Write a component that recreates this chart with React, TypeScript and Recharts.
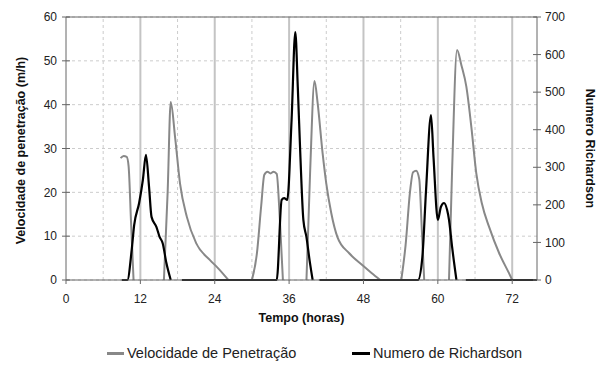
import React from "react";
import {
  LineChart,
  Line,
  XAxis,
  YAxis,
  CartesianGrid,
  ReferenceLine,
  Legend,
} from "recharts";

// Velocidade de penetração (m/h) — left axis
const VEL_TIME = [
  8.8, 9.3, 9.8, 10.1, 10.5, 10.9, 11.5,
  15.8, 16.4, 16.9, 17.6, 18.4, 19.5, 21.0, 23.2, 24.6, 26.2, 28,
  30.0, 30.8, 31.5, 32.0, 32.5, 33.0, 33.5, 34.0, 34.5, 35.0, 36,
  38.8, 39.4, 40.1, 40.6, 41.4, 42.0, 42.8, 43.8, 45.7, 47.8, 49.3, 50.7, 52,
  54.1, 54.8, 55.5, 56.0, 56.5, 57.0, 57.4, 57.8, 59,
  61.8, 62.3, 63.1, 63.8, 64.6, 65.4, 66.2, 67.1, 68.3, 69.9, 71.5, 72.0,
];
const VEL_VALUES = [
  27.8, 28.3, 28.1, 26, 13, 0, null,
  0, 20, 40.6, 32.6, 22, 14.4, 8.4, 4.6, 2.6, 0, null,
  0, 6, 17, 24, 24.7, 24.3, 24.7, 24.2, 14, 0, null,
  0, 25, 45.4, 40.4, 29, 22, 15.3, 9.8, 6.1, 3.4, 1.6, 0, null,
  0, 8, 20, 24.6, 24.9, 23, 12, 0, null,
  0, 25, 52.5, 49, 44.1, 35, 24.4, 17.5, 12, 6.1, 1.5, 0,
];

// Numero de Richardson — right axis
const RICH_TIME = [
  9.0, 9.9, 10.6, 11.0, 11.8, 12.4, 12.9, 13.4, 13.8, 14.6, 15.1, 15.6, 16.2, 16.9, 17.8,
  18.7, 34.0, 34.8, 35.2, 35.7, 36.4, 37.0, 37.4, 37.8, 38.3, 38.8, 39.3, 39.8, 40.4,
  40.9, 56.8, 57.5, 58.1, 58.9, 59.3, 60.0, 60.5, 61.0, 61.5, 61.8, 62.3, 63.0, 63.8,
  64.5, 76,
];
const RICH_VALUES = [
  0, 0, 80, 146, 205, 266, 333, 248, 168, 141, 115, 98, 45, 0, null,
  0, 0, 213, 218, 213, 426, 660, 514, 338, 160, 114, 53, 0, null,
  0, 0, 61, 240, 439, 327, 160, 195, 205, 186, 160, 88, 0, null,
  0, 0,
];

const X_TICKS = [0, 12, 24, 36, 48, 60, 72];
const X_MINOR = [6, 18, 30, 42, 54, 66];
const X_MAJOR = [12, 24, 36, 48, 60, 72];
const LEFT_TICKS = [0, 10, 20, 30, 40, 50, 60];
const RIGHT_TICKS = [0, 100, 200, 300, 400, 500, 600, 700];

const velData = VEL_TIME.map((t, i) => ({ t, vel: VEL_VALUES[i] }));
const richData = RICH_TIME.map((t, i) => ({ t, rich: RICH_VALUES[i] }));

const FONT = "Arial, 'Liberation Sans', sans-serif";
const AXIS = "#666";
const TITLE_STYLE = { fontSize: 12.5, fontWeight: "bold", fill: "#111", fontFamily: FONT };

const LeftTick = ({ x, y, payload }: any) => (
  <g>
    <line x1={x + 5} x2={x + 13} y1={y} y2={y} stroke={AXIS} />
    <text x={x} y={y} dy="0.35em" textAnchor="end" fontSize={12} fill="#222" fontFamily={FONT}>
      {payload.value}
    </text>
  </g>
);

const RightTick = ({ x, y, payload }: any) => (
  <g>
    <line x1={x - 12} x2={x - 4} y1={y} y2={y} stroke={AXIS} />
    <text x={x} y={y} dy="0.35em" textAnchor="start" fontSize={12} fill="#222" fontFamily={FONT}>
      {payload.value}
    </text>
  </g>
);

const LeftTitle = ({ viewBox }: any) => {
  const cy = viewBox.y + viewBox.height / 2 + 2;
  return (
    <text
      transform={`translate(21, ${cy}) rotate(-90)`}
      textAnchor="middle"
      dominantBaseline="central"
      fontSize={12.5}
      fontWeight="bold"
      fill="#111"
      fontFamily={FONT}
    >
      Velocidade de penetração (m/h)
    </text>
  );
};

const renderLegend = () => (
  <div style={{ fontFamily: FONT, fontSize: 14.5, color: "#222" }}>
    <div style={{ position: "absolute", left: 107, display: "flex", alignItems: "center" }}>
      <span style={{ width: 17, height: 3, background: "#888", marginRight: 3 }} />
      Velocidade de Penetração
    </div>
    <div style={{ position: "absolute", left: 352, display: "flex", alignItems: "center" }}>
      <span style={{ width: 18, height: 3, background: "#000", marginRight: 3 }} />
      Numero de Richardson
    </div>
  </div>
);

export default function App() {
  return (
    <div style={{ position: "absolute", left: 0, top: 0, fontFamily: FONT }}>
      <LineChart width={605} height={365} margin={{ top: 17, right: 0, bottom: 0, left: 0 }}>
        <CartesianGrid
          yAxisId="left"
          vertical={false}
          stroke="#ccc"
          strokeDasharray="3 3"
        />
        <XAxis
          type="number"
          dataKey="t"
          domain={[0, 76]}
          ticks={X_TICKS}
          allowDataOverflow
          height={85}
          tickSize={4}
          tickMargin={10}
          stroke={AXIS}
          tick={{ fontSize: 12, fill: "#222", fontFamily: FONT }}
          label={{
            value: "Tempo (horas)",
            position: "insideTop",
            offset: 33,
            style: TITLE_STYLE,
          }}
        />
        <YAxis
          yAxisId="left"
          domain={[0, 60]}
          ticks={LEFT_TICKS}
          width={66}
          tickSize={4}
          tickMargin={5}
          tickLine={false}
          stroke={AXIS}
          tick={<LeftTick />}
          label={{ content: <LeftTitle /> }}
        />
        <YAxis
          yAxisId="right"
          orientation="right"
          domain={[0, 700]}
          ticks={RIGHT_TICKS}
          width={68}
          tickSize={4}
          tickMargin={4}
          tickLine={false}
          stroke={AXIS}
          tick={<RightTick />}
          label={{
            value: "Numero Richardson",
            angle: 90,
            position: "insideRight",
            offset: 15,
            style: { ...TITLE_STYLE, textAnchor: "middle" },
          }}
        />
        {X_MINOR.map((v) => (
          <ReferenceLine key={`mi-${v}`} x={v} yAxisId="left" stroke="#ccc" strokeDasharray="3 3" />
        ))}
        {X_MAJOR.map((v) => (
          <ReferenceLine key={`ma-${v}`} x={v} yAxisId="left" stroke="#c4c4c4" strokeWidth={2} />
        ))}
        <ReferenceLine y={60} yAxisId="left" stroke={AXIS} />
        <Line
          yAxisId="left"
          data={velData}
          dataKey="vel"
          name="Velocidade de Penetração"
          type="monotone"
          stroke="#888"
          strokeWidth={2}
          dot={false}
          isAnimationActive={false}
        />
        <Line
          yAxisId="right"
          data={richData}
          dataKey="rich"
          name="Numero de Richardson"
          type="monotone"
          stroke="#000"
          strokeWidth={2.2}
          dot={false}
          isAnimationActive={false}
        />
        <Legend
          verticalAlign="middle"
          align="center"
          content={renderLegend}
          wrapperStyle={{ top: 345, left: 0, width: 605, height: 18 }}
        />
      </LineChart>
    </div>
  );
}
